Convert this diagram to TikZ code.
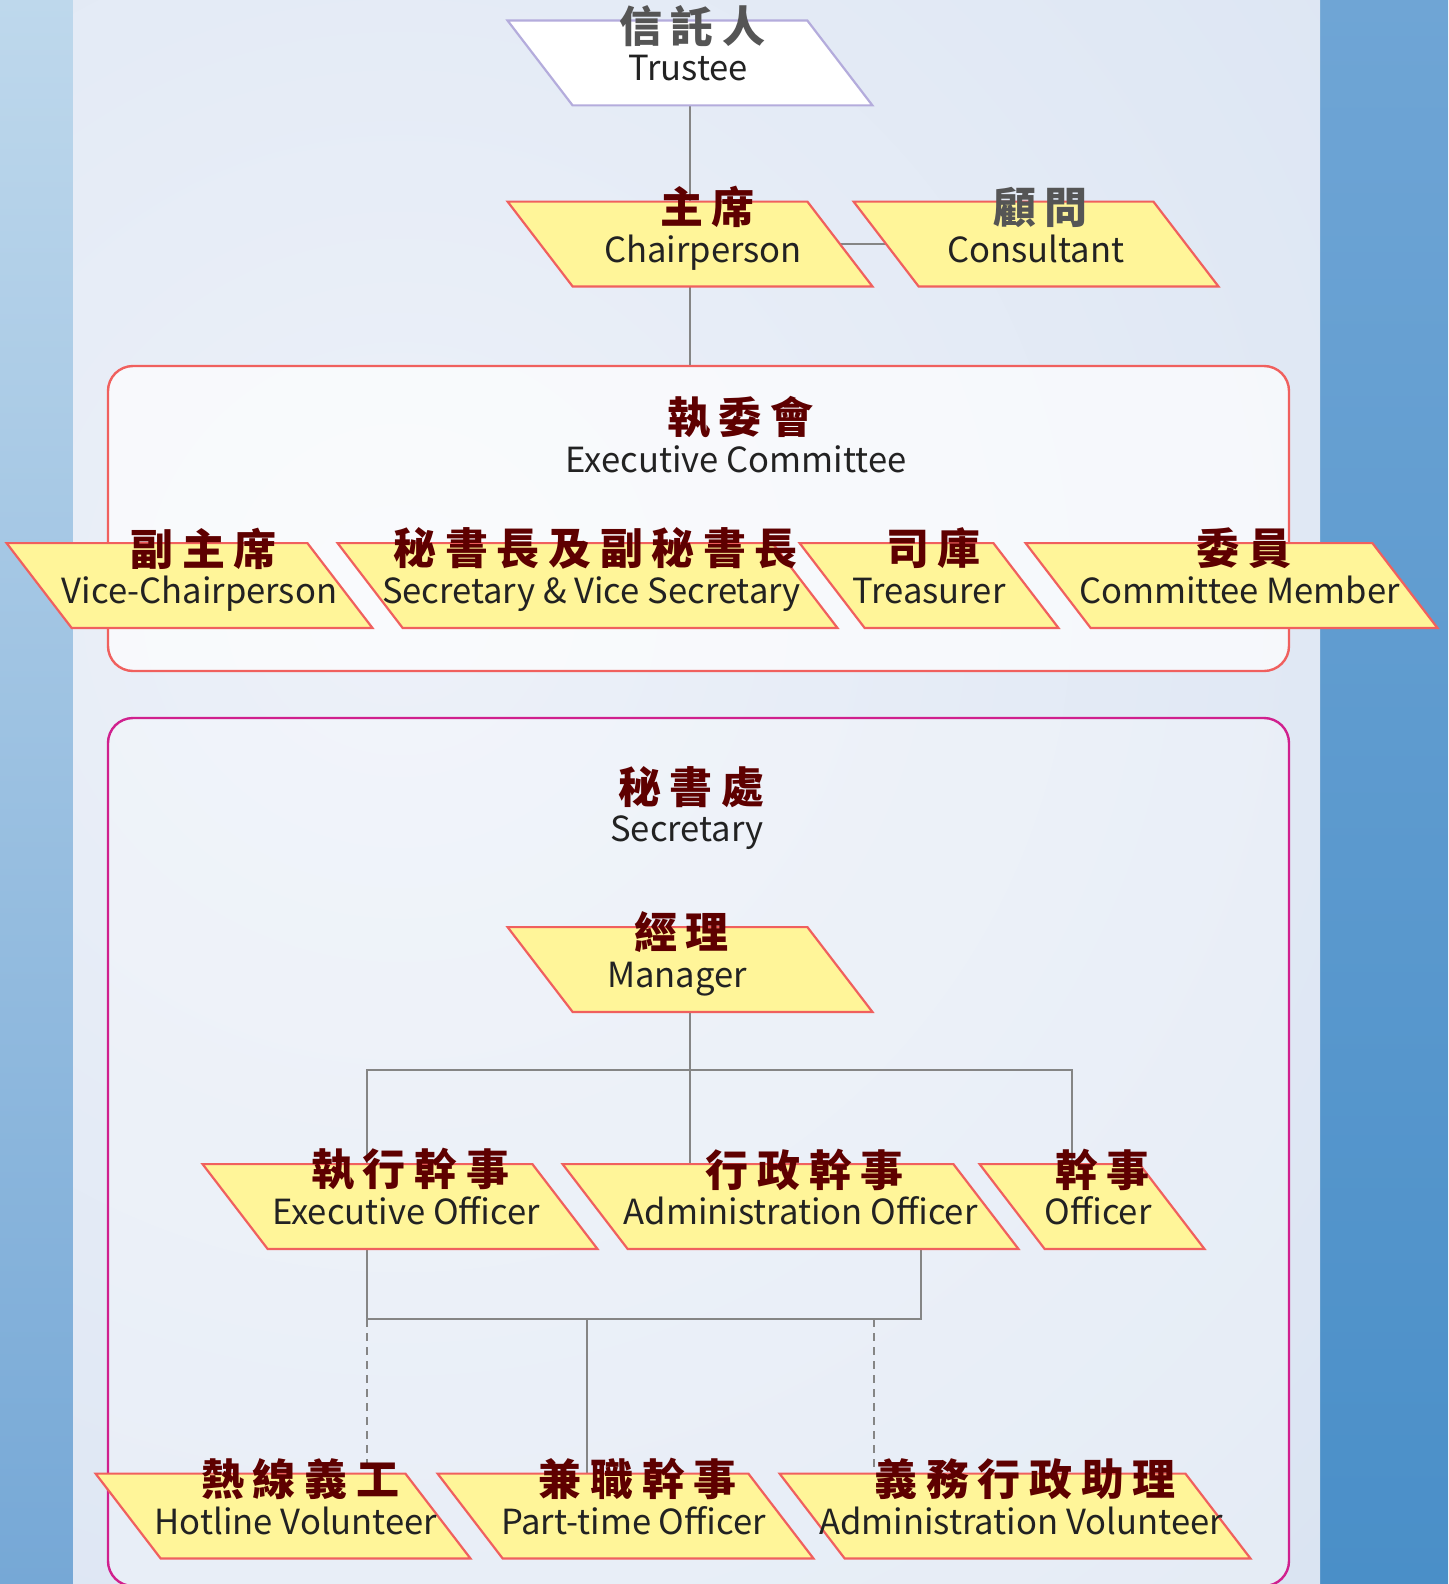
\documentclass[tikz,border=0pt]{standalone}
\usepackage{fontspec}
\setmainfont{Noto Sans CJK TC}
\newfontfamily\cjk[LetterSpace=20]{Noto Sans CJK TC}

\definecolor{boxfill}{HTML}{FFF599}
\definecolor{boxline}{HTML}{F0605E}
\definecolor{cnred}{HTML}{5E0000}
\definecolor{cngrey}{HTML}{555555}
\definecolor{entext}{HTML}{222222}
\definecolor{linkgrey}{HTML}{858585}
\definecolor{secline}{HTML}{D0208E}
\definecolor{trustline}{HTML}{B4ACDC}
\definecolor{glow0}{HTML}{EDF1F9}
\definecolor{glow1}{HTML}{DAE4F2}
\definecolor{glow2}{HTML}{BAD0E9}
\definecolor{glow3}{HTML}{A8C3E2}
\pgfdeclareradialshading{panelglow}{\pgfpoint{0bp}{0bp}}{color(0bp)=(glow0); color(24bp)=(glow1); color(37bp)=(glow2); color(48bp)=(glow3); color(50bp)=(glow3)}
\pgfdeclarelayer{back}
\pgfdeclarelayer{edges}
\pgfdeclarelayer{boxes}
\pgfsetlayers{back,edges,boxes,main}

\tikzstyle{rolebody} = [rectangle, inner sep=0pt, minimum height=42pt]
\tikzstyle{roleshape} = [draw=boxline, fill=boxfill, line width=1.1pt]
\tikzstyle{cnfont} = [text=cnred, font=\cjk\bfseries\fontsize{21.5}{24}\selectfont]
\tikzstyle{enfont} = [text=entext, font=\fontsize{17.3}{20}\selectfont]
\tikzstyle{cnlbl} = [cnfont, yshift=18.5pt]
\tikzstyle{enlbl} = [enfont, text height=18pt, text depth=0pt]
\tikzstyle{group} = [rectangle, rounded corners=12.5pt, line width=1.2pt, inner sep=0pt]
\tikzstyle{link} = [draw=linkgrey, line width=0.9pt]
% [shape options]{name}{position}{top width}{text shift}{chinese}{english}
\newcommand{\role}[7][]{
  \node[rolebody, minimum width=#4,
    label={[cnlbl, xshift=#5]center:{#6\kern-4.3pt}},
    label={[enlbl, xshift=#5]center:{#7}}] (#2) at (#3) {};
  \begin{pgfonlayer}{boxes}
    \path[roleshape, #1] ([xshift=-16.25pt]#2.north west) -- ([xshift=-16.25pt]#2.north east)
      -- ([xshift=16.25pt]#2.south east) -- ([xshift=16.25pt]#2.south west) -- cycle;
  \end{pgfonlayer}}

\begin{document}
\begin{tikzpicture}[x=0.5pt, y=-0.5pt]
\useasboundingbox (0,0) rectangle (1448,1584);

\begin{pgfonlayer}{back}
  \shade[top color={rgb,255:red,190;green,216;blue,236}, middle color={rgb,255:red,200;green,218;blue,237}, bottom color={rgb,255:red,118;green,168;blue,214}] (0,0) rectangle (73,1584);
  \shade[top color={rgb,255:red,111;green,165;blue,213}, bottom color={rgb,255:red,74;green,143;blue,200}] (1320,0) rectangle (1448,1584);
  \begin{scope}
    \clip (73,0) rectangle (1320,1584);
    \shade[shading=panelglow] (400,600) circle (1400);
  \end{scope}
  \node[group, draw=boxline, fill=white, fill opacity=0.7, minimum width=590.5pt, minimum height=152.5pt] (excom) at (698.5,518.5) {};
  \node[group, draw=secline, fill=white, fill opacity=0.3, minimum width=590.5pt, minimum height=434pt] (secr) at (698.5,1152) {};
\end{pgfonlayer}

% titles of the two groups
\node[cnfont] (excomcn) at (736,417) {執委會\kern-4.3pt};
\node[enfont, anchor=base] (excomen) at (736,472) {Executive Committee};
\node[cnfont] (secrcn) at (687,787) {秘書處\kern-4.3pt};
\node[enfont, anchor=base] (secren) at (687,841) {Secretary};

% board
\role[fill=white, draw=trustline]{trustee}{690,63}{149.5pt}{-1pt}{\color{cngrey}信託人}{Trustee}
\role{chair}{690,244}{149.5pt}{6.5pt}{主席}{Chairperson}
\role{consult}{1036,244}{149.5pt}{0pt}{\color{cngrey}顧問}{Consultant}

% executive committee
\role{vice}{189.5,585.5}{150pt}{5pt}{副主席}{Vice-Chairperson}
\role{secs}{587.5,585.5}{217pt}{2pt}{秘書長及副秘書長}{Secretary \& Vice Secretary}
\role{treas}{929,585.5}{96.5pt}{0pt}{司庫}{Treasurer}
\role{member}{1231.5,585.5}{173pt}{4pt}{委員}{Committee Member}

% secretariat
\role{mgr}{690,969.5}{149.5pt}{-6.5pt}{經理}{Manager}
\role{eo}{400,1206.5}{164.5pt}{3pt}{執行幹事}{Executive Officer}
\role{ao}{790.5,1206.5}{195pt}{5pt}{行政幹事}{Administration Officer}
\role{of}{1092,1206.5}{79.5pt}{3pt}{幹事}{Officer}
\role{hot}{283,1516}{154.5pt}{6.5pt}{熱線義工}{Hotline Volunteer}
\role{part}{625.5,1516}{155pt}{4pt}{兼職幹事}{Part-time Officer}
\role{avol}{1015,1516}{202.5pt}{3pt}{義務行政助理}{Administration Volunteer}

\coordinate (railL) at (367,1070);
\coordinate (railR) at (1072,1070);
\coordinate (subL) at (367,1319);
\coordinate (subM) at (587,1319);
\coordinate (subD) at (874,1319);
\coordinate (subR) at (921,1319);

\begin{pgfonlayer}{edges}
  \draw[link] (trustee.south) -- (chair.north);
  \draw[link] (chair.east) -- (consult.west);
  \draw[link] (chair.south) -- (chair.south |- excom.north);
  \draw[link] (mgr.south) -- (mgr.south |- ao.north);
  \draw[link] (eo.north -| railL) -- (railL) -- (railR) -- (of.north -| railR);
  \draw[link] (eo.south -| subL) -- (subL) -- (subR) -- (ao.south -| subR);
  \draw[link, dash pattern=on 4pt off 3pt] (subL) -- (hot.north -| subL);
  \draw[link] (subM) -- (part.north -| subM);
  \draw[link, dash pattern=on 4pt off 3pt] (subD) -- (avol.north -| subD);
\end{pgfonlayer}
\end{tikzpicture}
\end{document}
